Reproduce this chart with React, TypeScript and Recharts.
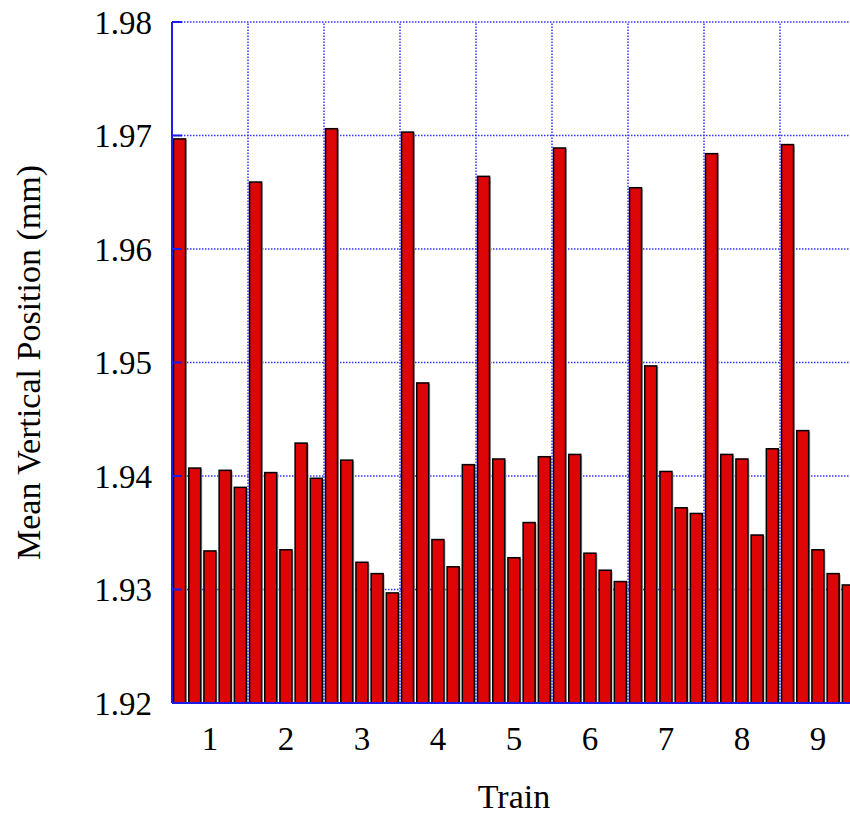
import { BarChart, Bar, XAxis, YAxis, CartesianGrid, ReferenceLine, Label } from 'recharts'

const trains = ['1', '2', '3', '4', '5', '6', '7', '8', '9']
const train1 = [1.9697, 1.9407, 1.9334, 1.9405, 1.939]
const train2 = [1.9659, 1.9403, 1.9335, 1.9429, 1.9398]
const train3 = [1.9706, 1.9414, 1.9324, 1.9314, 1.9297]
const train4 = [1.9703, 1.9482, 1.9344, 1.932, 1.941]
const train5 = [1.9664, 1.9415, 1.9328, 1.9359, 1.9417]
const train6 = [1.9689, 1.9419, 1.9332, 1.9317, 1.9307]
const train7 = [1.9654, 1.9497, 1.9404, 1.9372, 1.9367]
const train8 = [1.9684, 1.9419, 1.9415, 1.9348, 1.9424]
const train9 = [1.9692, 1.944, 1.9335, 1.9314, 1.9304]
const yTicks = [1.92, 1.93, 1.94, 1.95, 1.96, 1.97, 1.98]

const series = [train1, train2, train3, train4, train5, train6, train7, train8, train9]
const data = series.flatMap((vals, t) => vals.map((v, k) => ({ key: `${trains[t]}.${k + 1}`, value: v })))
// first bar of each train (except the first) marks a group boundary
const boundaries = data.filter((d, i) => i > 0 && i % 5 === 0).map(d => d.key)

const BLUE = '#1c1ce8'
const GRID = '#3434ff'
const font = { fontSize: 33, fontFamily: 'Liberation Serif', fill: '#000' }
const titleFont = { fontSize: 34, fontFamily: 'Liberation Serif', fill: '#000' }

function ShadowBar(props: any) {
  const { x, y, width, height } = props
  if (!height || height <= 0) return null
  return (
    <g>
      <rect x={x + 1.5} y={y + 1} width={width} height={height - 1} fill="#a8a8a8" />
      <rect x={x} y={y} width={width} height={height} fill="#dd0505" stroke="#000" strokeWidth={1.5} />
    </g>
  )
}

export default function App() {
  return (
    <div style={{ position: 'fixed', left: 0, top: 0, width: 850, height: 819, overflow: 'hidden', background: '#fff' }}>
      <BarChart width={870} height={819} data={data} margin={{ top: 22, right: 14, bottom: 0, left: 0 }}
        barCategoryGap="10%">
        <CartesianGrid vertical={false} stroke={GRID} strokeWidth={1.5} strokeDasharray="1.5 1.5" />
        {boundaries.map(b => (
          <ReferenceLine key={b} x={b} position="start" stroke={GRID} strokeWidth={1.5} strokeDasharray="1.5 1.5" />
        ))}
        <XAxis dataKey="key" interval={0} height={116} tickSize={0} tickMargin={24} tickLine={false}
          axisLine={{ stroke: BLUE, strokeWidth: 2 }} tick={font}
          tickFormatter={(v: string) => (v.endsWith('.3') ? v.split('.')[0] : '')}>
          <Label content={({ viewBox }: any) => (
            <text x={viewBox.x + viewBox.width / 2} y={808} textAnchor="middle" {...titleFont}>Train</text>
          )} />
        </XAxis>
        <XAxis xAxisId="top" dataKey="key" orientation="top" height={0} tick={false} tickLine={false}
          axisLine={{ stroke: BLUE, strokeWidth: 2 }} />
        <YAxis domain={[1.92, 1.98]} ticks={yTicks} width={172} tickSize={-10} tickMargin={30}
          tickLine={{ stroke: BLUE, strokeWidth: 2 }} axisLine={{ stroke: BLUE, strokeWidth: 2 }}
          tick={font} tickFormatter={(v: number) => v.toFixed(2)}>
          <Label content={({ viewBox }: any) => {
            const cy = viewBox.y + viewBox.height / 2
            return (
              <text x={28} y={cy} transform={`rotate(-90, 28, ${cy})`} textAnchor="middle"
                dominantBaseline="central" {...titleFont}>Mean Vertical Position (mm)</text>
            )
          }} />
        </YAxis>
        <YAxis yAxisId="r" orientation="right" domain={[1.92, 1.98]} ticks={yTicks} width={0}
          tickSize={-10} tick={false} tickLine={{ stroke: BLUE, strokeWidth: 2 }}
          axisLine={{ stroke: BLUE, strokeWidth: 2 }} />
        <Bar dataKey="value" shape={ShadowBar} isAnimationActive={false} />
      </BarChart>
    </div>
  )
}
